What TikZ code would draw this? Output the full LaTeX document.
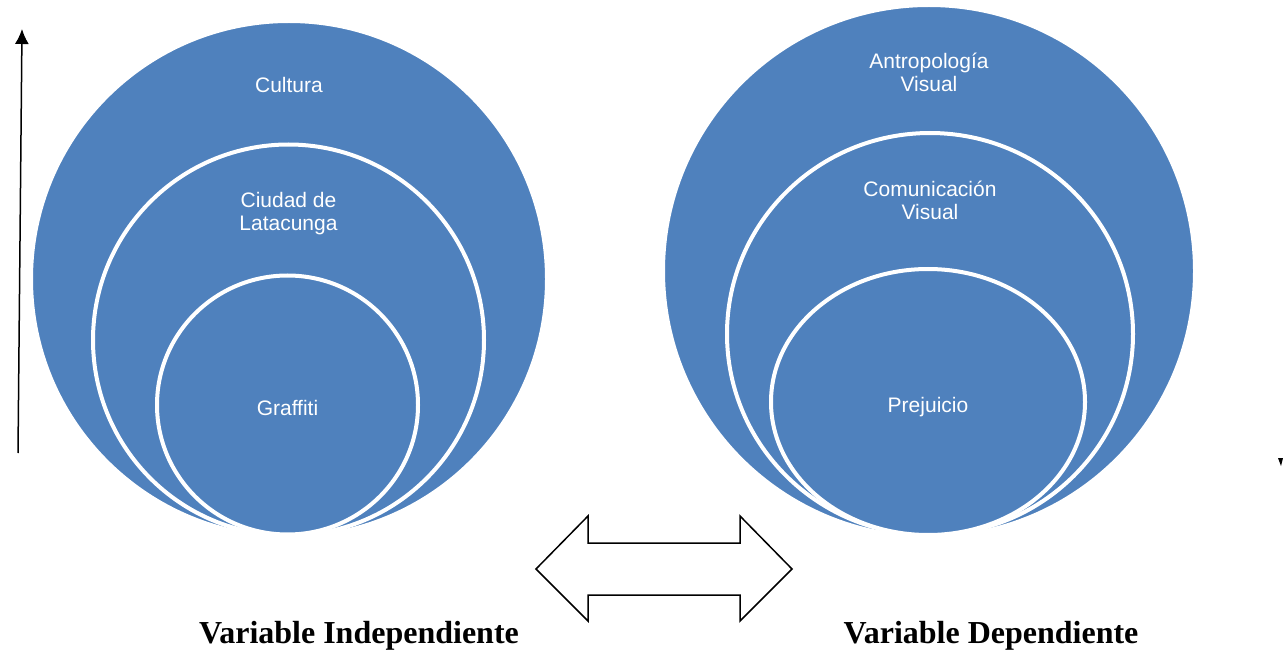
\documentclass[tikz,border=0pt]{standalone}
\usepackage{fontspec}
\setmainfont{Liberation Serif}
\setsansfont{Liberation Sans}
\usetikzlibrary{calc, shapes.geometric, arrows.meta}
\definecolor{smartblue}{HTML}{4F81BD}
\tikzset{>=latex,
  disc/.style={ellipse, fill=smartblue, draw=white, line width=4pt, inner sep=0pt},
  disclabel/.style={text=white, align=center, font=\sffamily\fontsize{21}{23}\selectfont},
  varlabel/.style={font=\bfseries\fontsize{32}{36}\selectfont, anchor=base}
}

\begin{document}
\begin{tikzpicture}[x=1pt, y=-1pt]
\useasboundingbox (0,0) rectangle (1283,655);
% variable independiente
\node[disc, minimum width=516, minimum height=516] (cultura) at (289,279) {};
\node[disc, minimum width=391, minimum height=391] (ciudad) at (288.5,340) {};
\node[disc, minimum width=261, minimum height=259] (graffiti) at (287.5,405) {};
\node[disclabel] (cultura-txt) at ($(cultura.north)+(0,66)$) {Cultura};
\node[disclabel] (ciudad-txt) at ($(ciudad.north)+(0,71)$) {Ciudad de\\Latacunga};
\node[disclabel] (graffiti-txt) at ($(graffiti.center)+(0,3)$) {Graffiti};
% variable dependiente
\node[disc, minimum width=532, minimum height=532] (antrop) at (929,271) {};
\node[disc, minimum width=406, minimum height=402] (comunic) at (930,334) {};
\node[disc, minimum width=314, minimum height=266] (prejuicio) at (928,402) {};
\node[disclabel] (antrop-txt) at ($(antrop.north)+(0,69)$) {Antropología\\Visual};
\node[disclabel] (comunic-txt) at ($(comunic.north)+(0,69)$) {Comunicación\\Visual};
\node[disclabel] (prejuicio-txt) at ($(prejuicio.center)+(0,5)$) {Prejuicio};
% eje y doble flecha
\coordinate (eje-abajo) at (18,453);
\coordinate (eje-arriba) at (22,29);
\draw[-{Latex[length=15pt,width=14pt]}, line width=1.5pt] (eje-abajo) -- (eje-arriba);
\fill (1278,458) -- (1283,458) -- (1281,466) -- cycle;
\draw[line width=1.5pt, line join=miter]
  (536,569) -- (588,516) -- (588,543) -- (740,543) -- (740,516) -- (792,569)
  -- (740,621) -- (740,595) -- (588,595) -- (588,621) -- cycle;
\node[varlabel] (vi) at (359,643) {Variable Independiente};
\node[varlabel] (vd) at (991,643) {Variable Dependiente};
\end{tikzpicture}
\end{document}
